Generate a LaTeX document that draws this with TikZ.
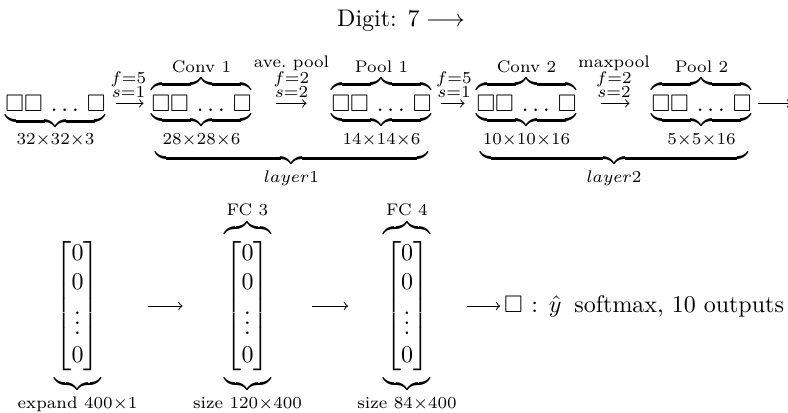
\documentclass[tikz,border=0pt]{standalone}
\usepackage{amsmath,amssymb}
\newcommand\sqrow{\square\square\,\ldots\,\square}
\newcommand\vecz{\begin{bmatrix}0\\0\\\vdots\\0\end{bmatrix}}
\newsavebox\sqbx
\sbox\sqbx{$\sqrow$}
\newcommand\ubr[1]{\hbox to #1{\upbracefill}}
\newcommand\obr[1]{\hbox to #1{\downbracefill}}
\tikzset{
  every node/.style={inner sep=0pt, outer sep=0pt},
  sqbox/.style={anchor=base},
  txtlab/.style={font=\scriptsize, anchor=base},
  mathlab/.style={anchor=base},
  arrlab/.style={font=\scriptsize, align=center, anchor=south, yshift=2.6pt},
  conn/.style={-to, line width=0.4pt},
}
\begin{document}
\begin{tikzpicture}[x=0.41667pt, y=-0.41667pt]
\useasboundingbox (0,0) rectangle (788,412);

% title
\node[anchor=base] (title) at (401,26) {Digit: $7\longrightarrow$};

% square rows
\node[sqbox] (sq1) at (55.5,111.5) {$\sqrow$};
\node[sqbox] (sq2) at (201.5,111.5) {$\sqrow$};
\node[sqbox] (sq3) at (381.5,111.5) {$\sqrow$};
\node[sqbox] (sq4) at (526.5,111.5) {$\sqrow$};
\node[sqbox] (sq5) at (701.5,111.5) {$\sqrow$};
\coordinate (outc) at ([xshift=16.5pt]sq5.east);

% over braces and names
\node (ob2) at (201.5,84.5) {\obr{\wd\sqbx}};
\node (ob3) at (381.5,84.5) {\obr{\wd\sqbx}};
\node (ob4) at (526.5,84.5) {\obr{\wd\sqbx}};
\node (ob5) at (701.5,84.5) {\obr{\wd\sqbx}};
\node[txtlab] (n2) at (201.5,72) {Conv 1};
\node[txtlab] (n3) at (381.5,72) {Pool 1};
\node[txtlab] (n4) at (526.5,72) {Conv 2};
\node[txtlab] (n5) at (701.5,72) {Pool 2};

% under braces and sizes
\node (ub1) at (55.5,121.5) {\ubr{\wd\sqbx}};
\node (ub2) at (201.5,120.5) {\ubr{\wd\sqbx}};
\node (ub3) at (381.5,120.5) {\ubr{\wd\sqbx}};
\node (ub4) at (526.5,120.5) {\ubr{\wd\sqbx}};
\node (ub5) at (701.5,120.5) {\ubr{\wd\sqbx}};
\node[mathlab] (d1) at (55.5,144) {$\scriptstyle 32\times32\times3$};
\node[mathlab] (d2) at (201.5,144) {$\scriptstyle 28\times28\times6$};
\node[mathlab] (d3) at (381.5,144) {$\scriptstyle 14\times14\times6$};
\node[mathlab] (d4) at (526.5,144) {$\scriptstyle 10\times10\times16$};
\node[mathlab] (d5) at (701.5,144) {$\scriptstyle 5\times5\times16$};

% layer braces
\node (lb1) at (291.5,158.5) {\ubr{113.75pt}};
\node (lb2) at (614,158.5) {\ubr{111.67pt}};
\node[mathlab] (ll1) at (291.5,182) {$\scriptstyle layer1$};
\node[mathlab] (ll2) at (614,182) {$\scriptstyle layer2$};

% top arrows
\draw[conn, shorten <=4.58pt, shorten >=3.33pt] (sq1) -- node[arrlab] {$f{=}5$\\[-2.2pt]$s{=}1$} (sq2);
\draw[conn, shorten <=10.4pt, shorten >=10.4pt] (sq2) -- node[arrlab] {ave.\ pool\\[-1.6pt]$f{=}2$\\[-2.2pt]$s{=}2$} (sq3);
\draw[conn, shorten <=3.75pt, shorten >=5pt] (sq3) -- node[arrlab] {$f{=}5$\\[-2.2pt]$s{=}1$} (sq4);
\draw[conn, shorten <=10pt, shorten >=9.17pt] (sq4) -- node[arrlab] {maxpool\\[-1.6pt]$f{=}2$\\[-2.2pt]$s{=}2$} (sq5);
\draw[conn, shorten <=2.9pt] (sq5) -- (outc);

% bottom row: vectors
\node (m1) at (77.5,306) {$\vecz$};
\node (m2) at (247.5,306) {$\vecz$};
\node (m3) at (407,306) {$\vecz$};
\node (bb1) at (77.5,384) {\ubr{19.5pt}};
\node (bb2) at (247.5,384) {\ubr{19.5pt}};
\node (bb3) at (407,384) {\ubr{19.5pt}};
\node (tb2) at (247.5,228) {\obr{19.5pt}};
\node (tb3) at (407,228) {\obr{19.5pt}};
\node[txtlab] (f3) at (247.5,215) {FC 3};
\node[txtlab] (f4) at (407,215) {FC 4};
\node[mathlab] (e1) at (77.5,408) {$\scriptstyle \text{expand } 400\times1$};
\node[mathlab] (e2) at (247.5,408) {$\scriptstyle \text{size } 120\times400$};
\node[mathlab] (e3) at (407,408) {$\scriptstyle \text{size } 84\times400$};
\node[anchor=base west] (out) at (504,312) {$\square\kern3.6pt{:}\kern4.5pt\hat{y}$\hspace{5.4pt}softmax, 10 outputs};

\draw[conn, shorten <=20.4pt, shorten >=17.9pt] (m1) -- (m2);
\draw[conn, shorten <=17.9pt, shorten >=15.4pt] (m2) -- (m3);
\draw[conn, shorten <=15.85pt, shorten >=1.6pt] (m3.east) -- (m3.east -| out.west);
\end{tikzpicture}
\end{document}
